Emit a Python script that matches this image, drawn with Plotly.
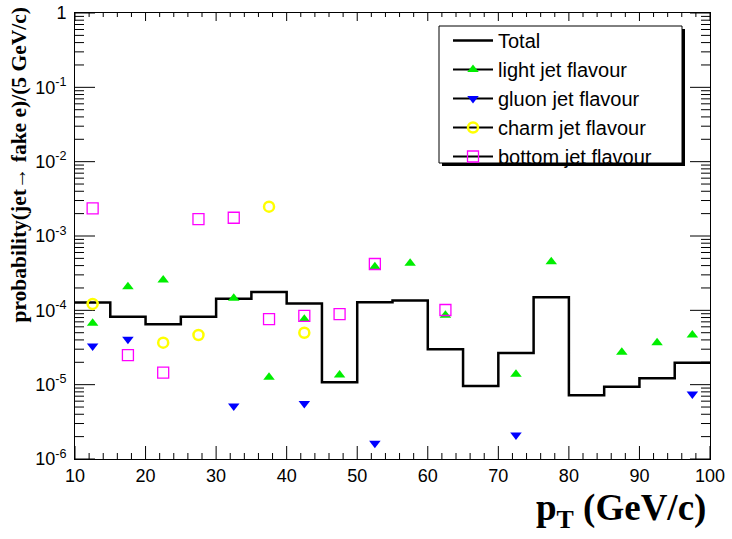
import plotly.graph_objects as go

# ---- data ----
bin_low = [10, 15, 20, 25, 30, 35, 40, 45, 50, 55, 60, 65, 70, 75, 80, 85, 90, 95]
bin_high_last = 100
bin_centers = [12.5, 17.5, 22.5, 27.5, 32.5, 37.5, 42.5, 47.5, 52.5, 57.5,
               62.5, 67.5, 72.5, 77.5, 82.5, 87.5, 92.5, 97.5]

total = [1.27e-4, 8.2e-5, 6.5e-5, 8.2e-5, 1.43e-4, 1.76e-4, 1.24e-4, 1.08e-5, 1.28e-4,
         1.36e-4, 2.99e-5, 9.6e-6, 2.67e-5, 1.50e-4, 7.2e-6, 9.4e-6, 1.22e-5, 1.97e-5]

light = [6.7e-5, 2.08e-4, 2.56e-4, None, 1.45e-4, 1.26e-5, 7.6e-5, 1.35e-5, 3.86e-4,
         4.3e-4, 8.6e-5, None, 1.38e-5, 4.5e-4, None, 2.72e-5, 3.67e-5, 4.66e-5]

gluon = [3.31e-5, 4.07e-5, None, None, 5.16e-6, None, 5.6e-6, None, 1.63e-6,
         None, None, None, 2.1e-6, None, None, None, None, 7.5e-6]

charm = [1.22e-4, None, 3.67e-5, 4.66e-5, None, 2.48e-3, 5.0e-5, None, None,
         None, None, None, None, None, None, None, None, None]

bottom = [2.36e-3, 2.5e-5, 1.45e-5, 1.69e-3, 1.76e-3, 7.6e-5, 8.4e-5, 8.9e-5, 4.2e-4,
          None, 1.01e-4, None, None, None, None, None, None, None]

y_tickvals = [1e-6, 1e-5, 1e-4, 1e-3, 1e-2, 1e-1, 1]
y_ticktext = ["10<sup>-6</sup>", "10<sup>-5</sup>", "10<sup>-4</sup>", "10<sup>-3</sup>",
              "10<sup>-2</sup>", "10<sup>-1</sup>", "1"]
x_tickvals = [10, 20, 30, 40, 50, 60, 70, 80, 90, 100]

X_RANGE = [10, 100]
Y_LOG_RANGE = [-6, 0]

# minor tick positions (axis decoration)
x_minor = [v for v in range(12, 100, 2) if v % 10 != 0]
y_minor = [k * 10.0 ** e for e in range(-6, 0) for k in range(2, 10)]

# ---- layout geometry ----
W, H = 732, 539
ML, MR, MT, MB = 75, 22, 13, 80
PW, PH = W - ML - MR, H - MT - MB


def px2x(px):
    return (px - ML) / PW


def py2y(py):
    return 1 - (py - MT) / PH


def isolated(xs, ys):
    """Insert gaps so markers are not joined by the legend line style."""
    ox, oy = [], []
    for xv, yv in zip(xs, ys):
        ox += [xv, None]
        oy += [yv, None]
    return ox, oy


# ---- tick marks (ROOT style: inside, on all four sides), as one line trace ----
xspan = X_RANGE[1] - X_RANGE[0]
ydec = Y_LOG_RANGE[1] - Y_LOG_RANGE[0]
tx, ty = [], []


def xtick(v, len_bottom, len_top):
    tx.extend([v, v, None, v, v, None])
    ty.extend([10 ** Y_LOG_RANGE[0], 10 ** (Y_LOG_RANGE[0] + len_bottom / PH * ydec), None,
               10 ** Y_LOG_RANGE[1], 10 ** (Y_LOG_RANGE[1] - len_top / PH * ydec), None])


def ytick(v, length):
    tx.extend([X_RANGE[0], X_RANGE[0] + length / PW * xspan, None,
               X_RANGE[1], X_RANGE[1] - length / PW * xspan, None])
    ty.extend([v, v, None, v, v, None])


for v in x_tickvals:
    xtick(v, 13, 8)
for v in x_minor:
    xtick(v, 6, 4)
for v in y_tickvals:
    ytick(v, 20)
for v in y_minor:
    ytick(v, 9)

fig = go.Figure()

fig.add_trace(go.Scatter(x=tx, y=ty, mode="lines", line=dict(color="black", width=1),
                         connectgaps=False, showlegend=False, hoverinfo="skip",
                         cliponaxis=False))

step_x = bin_low + [bin_high_last]
step_y = total + [total[-1]]
fig.add_trace(go.Scatter(x=step_x, y=step_y, mode="lines", line_shape="hv",
                         line=dict(color="black", width=2.5), name="Total"))

series = [
    ("light jet flavour", light, dict(symbol="triangle-up", color="#00ee00", size=10)),
    ("gluon jet flavour", gluon, dict(symbol="triangle-down", color="#0000ff", size=10)),
    ("charm jet flavour", charm, dict(symbol="circle-open", color="#ffff00", size=10,
                                       line=dict(width=2.5, color="#ffff00"))),
    ("bottom jet flavour", bottom, dict(symbol="square-open", color="#ff00ff", size=11,
                                         line=dict(width=1.3, color="#ff00ff"))),
]
for name, vals, mk in series:
    xs, ys = isolated(bin_centers, vals)
    fig.add_trace(go.Scatter(x=xs, y=ys, mode="lines+markers", connectgaps=False,
                             line=dict(color="black", width=2), marker=mk, name=name))

tickfont = dict(family="Liberation Sans, Arial, sans-serif", size=18, color="black")

fig.update_layout(
    xaxis=dict(range=X_RANGE, tickmode="array", tickvals=x_tickvals,
               ticks="", showline=True, linecolor="black", linewidth=1, mirror=True,
               showgrid=False, zeroline=False, tickfont=tickfont, automargin=False,
               ticklabelstandoff=0),
    yaxis=dict(type="log", range=Y_LOG_RANGE, tickmode="array", tickvals=y_tickvals,
               ticktext=y_ticktext, ticks="", showline=True, linecolor="black",
               linewidth=1, mirror=True, showgrid=False, zeroline=False,
               tickfont=tickfont, automargin=False, ticklabelstandoff=4),
)

# legend box with ROOT-like shadow
lx0, ly0, lx1, ly1 = 439, 26, 682, 163
shapes = [
    dict(type="rect", xref="paper", yref="paper", x0=px2x(lx0 + 3), x1=px2x(lx1 + 3),
         y0=py2y(ly1 + 3), y1=py2y(ly0 + 3), fillcolor="black", line=dict(width=0),
         layer="above"),
    dict(type="rect", xref="paper", yref="paper", x0=px2x(lx0), x1=px2x(lx1),
         y0=py2y(ly1), y1=py2y(ly0), fillcolor="white",
         line=dict(color="black", width=1), layer="above"),
]

annotations = [
    dict(text="<b>probability(jet\u2192 fake e)/(5 GeV/c)</b>", xref="paper", yref="paper",
         x=px2x(18), y=py2y(6), xanchor="center", yanchor="top", textangle=-90,
         showarrow=False,
         font=dict(family="Liberation Serif, Times New Roman, serif", size=21.5, color="black")),
    dict(text="<b>p<sub>T</sub> (GeV/c)</b>", xref="paper", yref="paper",
         x=px2x(708), y=py2y(510), xanchor="right", yanchor="middle", showarrow=False,
         font=dict(family="Liberation Serif, Times New Roman, serif", size=37, color="black")),
]

fig.update_layout(
    width=W, height=H, margin=dict(l=ML, r=MR, t=MT, b=MB, pad=0, autoexpand=False),
    paper_bgcolor="white", plot_bgcolor="white",
    shapes=shapes, annotations=annotations,
    showlegend=True,
    legend=dict(x=px2x(448), y=py2y(21), xanchor="left", yanchor="top",
                bgcolor="rgba(0,0,0,0)", borderwidth=0,
                font=dict(family="Liberation Sans, Arial, sans-serif", size=20, color="black"),
                tracegroupgap=0, itemwidth=40),
)

fig.write_html("out.html", config={"displayModeBar": False},
               post_script="document.body.style.margin='0';")
